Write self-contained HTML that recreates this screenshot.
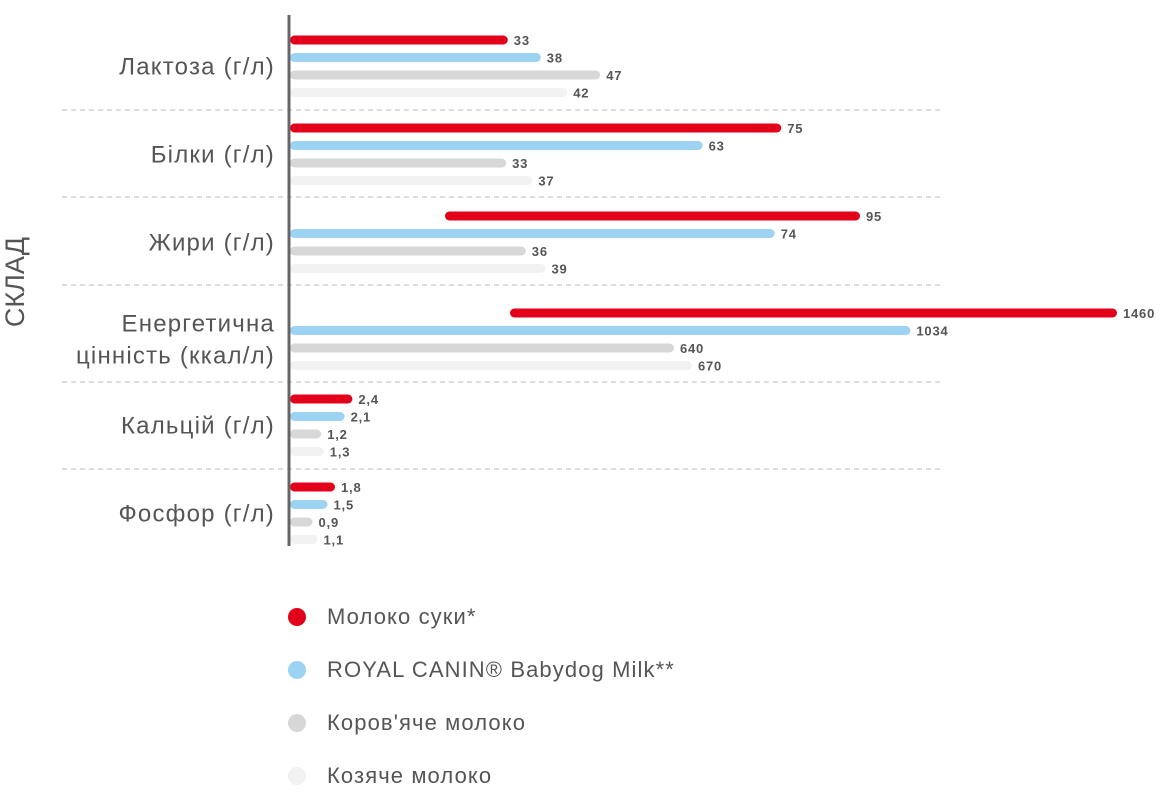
<!DOCTYPE html>
<html><head><meta charset="utf-8"><style>
body{margin:0;background:#fff;width:1160px;height:800px;overflow:hidden;font-family:"Liberation Sans","DejaVu Sans",sans-serif}
</style></head><body>
<svg id="c" width="1160" height="800" xmlns="http://www.w3.org/2000/svg"></svg>
<script>
const categories=[["Лактоза (г/л)"],["Білки (г/л)"],["Жири (г/л)"],["Енергетична","цінність (ккал/л)"],["Кальцій (г/л)"],["Фосфор (г/л)"]];
const series=["Молоко суки*","ROYAL CANIN® Babydog Milk**","Коров'яче молоко","Козяче молоко"];
const bitchMilk=[33,75,95,1460,2.4,1.8];
const babydogMilk=[38,63,74,1034,2.1,1.5];
const cowMilk=[47,33,36,640,1.2,0.9];
const goatMilk=[42,37,39,670,1.3,1.1];
const valueLabels=[["33","38","47","42"],["75","63","33","37"],["95","74","36","39"],["1460","1034","640","670"],["2,4","2,1","1,2","1,3"],["1,8","1,5","0,9","1,1"]];
const colors=["#e2001a","#9dd3f2","#d7d7d7","#f2f2f2"];
const groupScale=[6.6,6.55,6.55,0.60,26,25];
const NS="http://www.w3.org/2000/svg";
const svg=document.getElementById('c');
function el(t,a){const e=document.createElementNS(NS,t);for(const k in a)e.setAttribute(k,a[k]);svg.appendChild(e);return e;}
const x0=290;
const groupTop=[40,128,216,313,399,487];
const rowGap=17.5;
function xs(g,v){return x0+v*groupScale[g];}
const data=[bitchMilk,babydogMilk,cowMilk,goatMilk];
[110,197,285,382,469].forEach(y=>{
 const l=el('line',{x1:62,x2:942,y1:y,y2:y,stroke:'#bbb','stroke-width':1,'stroke-dasharray':'5,4'});
 
 
});
categories.forEach((c,g)=>{
 const cy=groupTop[g]+rowGap*1.5;
 const t=el('text',{x:275,y:cy-(c.length-1)*16+8,'text-anchor':'end','font-size':24,'letter-spacing':1.2,fill:'#555'});
 
 
 c.forEach((line,i)=>{const ts=document.createElementNS(NS,'tspan');ts.setAttribute('x',275);if(i)ts.setAttribute('dy',32);ts.textContent=line;t.appendChild(ts);});
 data.forEach((arr,s)=>{
  const v=arr[g];let end=xs(g,v);let start=x0;
  if(end>1117){end=1117;start=510;}
  if(s===0&&g===2){end=860;start=445;}
  const y=groupTop[g]+s*rowGap;
  const b=el('line',{x1:start+4.5,x2:end-4.5,y1:y,y2:y,stroke:colors[s],'stroke-width':9,'stroke-linecap':'round'});
  
  
  const tl=el('text',{x:end+6,y:y+5,'font-size':13,'font-weight':'bold','letter-spacing':0.8,fill:'#555'});
  
  
  tl.textContent=valueLabels[g][s];
 });
});
const ax=el('line',{x1:289,x2:289,y1:15,y2:546,stroke:'#666','stroke-width':3});


const yt=el('text',{x:0,y:0,transform:'translate(24,282) rotate(-90)','text-anchor':'middle','font-size':27,fill:'#555'});


yt.textContent='СКЛАД';
series.forEach((s,i)=>{
 const y=617+i*53;
 const c=el('circle',{cx:297,cy:y,r:9,fill:colors[i]});
 
 
 const t=el('text',{x:327,y:y+7,'font-size':22,'letter-spacing':1.1,fill:'#555'});
 
 
 t.textContent=s;
});
</script>
</body></html>
